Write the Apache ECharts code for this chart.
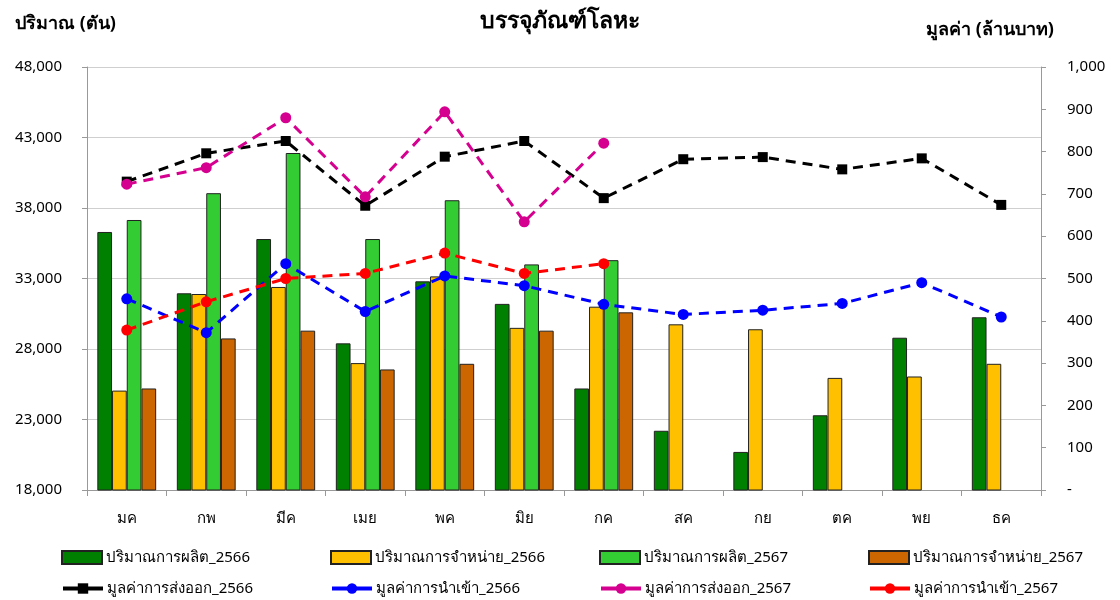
<!DOCTYPE html>
<html><head><meta charset="utf-8">
<script src="https://cdn.jsdelivr.net/npm/echarts@6/dist/echarts.min.js"></script>
<style>html,body{margin:0;padding:0;background:#fff}#c{width:1120px;height:600px}</style>
</head><body><div id="c"></div>
<script>
const months = ['มค','กพ','มีค','เมย','พค','มิย','กค','สค','กย','ตค','พย','ธค'];
const leftTicks = [18000, 48000, 5000];
const rightTicks = [0, 1000, 100];
const prod2566 = [36300, 31950, 35800, 28400, 32800, 31200, 25200, 22200, 20700, 23300, 28800, 30250];
const sales2566 = [25050, 31900, 32400, 27000, 33150, 29500, 31000, 29750, 29400, 25950, 26050, 26950];
const prod2567 = [37150, 39050, 41900, 35800, 38550, 34000, 34300, null, null, null, null, null];
const sales2567 = [25200, 28750, 29300, 26550, 26950, 29300, 30600, null, null, null, null, null];
const export2566 = [729, 796, 825, 672, 788, 825, 690, 782, 787, 758, 784, 674];
const import2566 = [452, 372, 535, 422, 506, 483, 439, 415, 425, 441, 490, 409];
const export2567 = [723, 762, 880, 693, 894, 634, 820, null, null, null, null, null];
const import2567 = [378, 445, 500, 512, 560, 512, 535, null, null, null, null, null];

const FONT = 'Tahoma, "Noto Sans", "DejaVu Sans", sans-serif';
const chart = echarts.init(document.getElementById('c'));
const barNames = ['ปริมาณการผลิต_2566','ปริมาณการจำหน่าย_2566','ปริมาณการผลิต_2567','ปริมาณการจำหน่าย_2567'];
const lineNames = ['มูลค่าการส่งออก_2566','มูลค่าการนำเข้า_2566','มูลค่าการส่งออก_2567','มูลค่าการนำเข้า_2567'];
const barData = [prod2566, sales2566, prod2567, sales2567];
const barColors = ['#008000','#FFC000','#33CC33','#CC6600'];
const lineData = [export2566, import2566, export2567, import2567];
const lineColors = ['#000000','#0000FF','#D5008F','#FF0000'];
const lineSymbols = ['rect','circle','circle','circle'];

const series = [];
barNames.forEach((n,i)=>series.push({
  name:n, type:'bar', yAxisIndex:0, data:barData[i], barGap:'0%', barCategoryGap:'26%',
  itemStyle:{color:barColors[i], borderColor:'#222', borderWidth:1}
}));
lineNames.forEach((n,i)=>series.push({
  name:n, type:'line', yAxisIndex:1, data:lineData[i], symbol:lineSymbols[i], symbolSize:lineSymbols[i]==='rect'?10:11,
  connectNulls:false,
  lineStyle:{color:lineColors[i], width:3, type:[10,7]},
  itemStyle:{color:lineColors[i]}, z:3
}));

const colX = [61, 330, 599, 868];
const legends = [];
barNames.forEach((n,i)=>legends.push({data:[{name:n, icon:'rect'}], left:colX[i], top:550, padding:0, itemWidth:40, itemHeight:13, itemGap:4,
  textStyle:{fontFamily:FONT, fontSize:15, color:'#000', padding:[0,0,0,-1]}}));
lineNames.forEach((n,i)=>legends.push({data:[n], left:colX[i], top:581, padding:0, itemWidth:40, itemHeight:13, itemGap:4,
  lineStyle:{type:'solid', width:4},
  textStyle:{fontFamily:FONT, fontSize:15, color:'#000', padding:[0,0,0,-1]}}));

chart.setOption({
  animation:false,
  textStyle:{fontFamily:FONT},
  title:{text:'บรรจุภัณฑ์โลหะ', left:'center', top:5, textStyle:{fontFamily:FONT, fontSize:23, fontWeight:'bold', color:'#000'}},
  graphic:[
    {type:'text', left:15, top:15, style:{text:'ปริมาณ (ตัน)', font:'bold 18px '+FONT, fill:'#000'}},
    {type:'text', left:926, top:21, style:{text:'มูลค่า (ล้านบาท)', font:'bold 18px '+FONT, fill:'#000'}}
  ],
  legend:legends,
  grid:{left:87, right:79, top:67, bottom:110},
  xAxis:{type:'category', data:months,
    axisLine:{lineStyle:{color:'#999'}},
    axisTick:{show:true, length:6, lineStyle:{color:'#999'}},
    axisLabel:{fontFamily:FONT, fontSize:15, color:'#000', margin:21}},
  yAxis:[
    {type:'value', min:leftTicks[0], max:leftTicks[1], interval:leftTicks[2],
      axisLine:{show:true, lineStyle:{color:'#999'}},
      axisTick:{show:true, length:5, lineStyle:{color:'#999'}},
      splitLine:{lineStyle:{color:'#cfcfcf'}},
      axisLabel:{fontFamily:FONT, fontSize:15, color:'#000', margin:25,
        formatter:v=>v.toLocaleString('en-US')}},
    {type:'value', min:rightTicks[0], max:rightTicks[1], interval:rightTicks[2],
      axisLine:{show:true, lineStyle:{color:'#999'}},
      axisTick:{show:true, length:5, lineStyle:{color:'#999'}},
      splitLine:{show:false},
      axisLabel:{fontFamily:FONT, fontSize:15, color:'#000', margin:26,
        formatter:v=>v===0?'-':v.toLocaleString('en-US')}}
  ],
  series:series
});
</script></body></html>
